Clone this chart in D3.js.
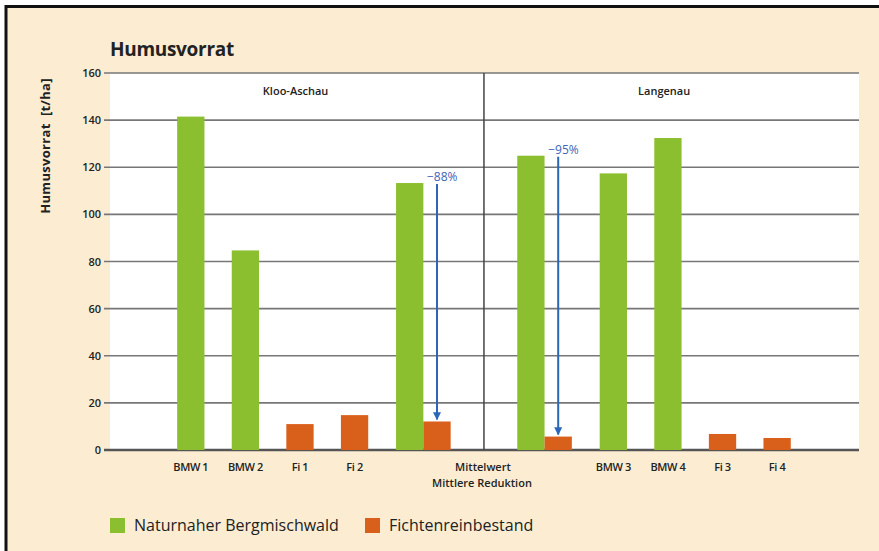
<!DOCTYPE html>
<html>
<head>
<meta charset="utf-8">
<script src="https://cdn.jsdelivr.net/npm/d3@7"></script>
<style>
  body { margin: 0; background: #fff; }
  text { font-family: "Open Sans", "Noto Sans", sans-serif; fill: #222; }
</style>
</head>
<body>
<div id="chart"></div>
<script>
// Humusvorrat – two sites, green = Bergmischwald, orange = Fichte
var leftCats = ["BMW 1", "BMW 2", "Fi 1", "Fi 2"];
var leftSeries = ["green", "green", "orange", "orange"];
var leftValues = [141.5, 84.7, 11.0, 14.8];

var rightCats = ["BMW 3", "BMW 4", "Fi 3", "Fi 4"];
var rightSeries = ["green", "green", "orange", "orange"];
var rightValues = [117.4, 132.4, 6.8, 5.1];

var meanLeft = [113.3, 12.1];   // Mittelwert Kloo-Aschau (BMW, Fi)
var meanRight = [124.9, 5.7];   // Mittelwert Langenau (BMW, Fi)
var reductions = ["\u221288%", "\u221295%"];

var sites = ["Kloo-Aschau", "Langenau"];
var legendLabels = ["Naturnaher Bergmischwald", "Fichtenreinbestand"];
var yTicks = [0, 20, 40, 60, 80, 100, 120, 140, 160];

var colors = { green: "#8cbf2f", orange: "#d8601a" };
var width = 879, height = 551;

var svg = d3.select("#chart").append("svg").attr("width", width).attr("height", height);

// frame
svg.append("rect").attr("x", 6).attr("y", 6).attr("width", width - 6).attr("height", height - 6).style("fill", "#fcedd2");
svg.append("line").attr("x1", 6).attr("x2", width).attr("y1", 6.5).attr("y2", 6.5).style("stroke", "#111").style("stroke-width", 3);
svg.append("line").attr("x1", 6).attr("x2", 6).attr("y1", 5).attr("y2", height).style("stroke", "#111").style("stroke-width", 3);

var plotL = 110, plotR = 859, plotT = 73, plotB = 450;
var y = d3.scaleLinear().domain([0, 160]).range([plotB, plotT]);
// x in "slot" units, one slot = one bar spacing
var x = d3.scaleLinear().domain([0, 13.72]).range([plotL, plotR]);
var barW = x(0.5) - x(0);

svg.append("rect").attr("x", plotL).attr("y", plotT).attr("width", plotR - plotL).attr("height", plotB - plotT).style("fill", "#fff");

// grid
svg.append("g").selectAll("line").data(yTicks).enter().append("line")
  .attr("x1", plotL - 6).attr("x2", plotR)
  .attr("y1", function(d){ return y(d); }).attr("y2", function(d){ return y(d); })
  .style("stroke", function(d){ return d === 0 ? "#555" : "#777"; })
  .style("stroke-width", function(d){ return d === 0 ? 2.5 : 1.6; });

svg.append("g").selectAll("text").data(yTicks).enter().append("text")
  .attr("x", plotL - 9).attr("y", function(d){ return y(d) + 4; })
  .attr("text-anchor", "end").style("font-size", "11px").style("font-weight", "600")
  .text(function(d){ return d; });

// divider between the sites
var divX = x(6.85);
svg.append("line").attr("x1", divX).attr("x2", divX).attr("y1", plotT).attr("y2", plotB)
  .style("stroke", "#444").style("stroke-width", 1.5);

// site labels
svg.selectAll(".site").data(sites).enter().append("text")
  .attr("x", function(d, i){ return i === 0 ? x(3.4) : x(10.15); })
  .attr("y", 95).attr("text-anchor", "middle")
  .style("font-size", "11px").style("font-weight", "600")
  .text(function(d){ return d; });

// single bars
var singles = [];
leftCats.forEach(function(c, i){ singles.push({ cat: c, s: leftSeries[i], v: leftValues[i], pos: 1.48 + i }); });
rightCats.forEach(function(c, i){ singles.push({ cat: c, s: rightSeries[i], v: rightValues[i], pos: 9.22 + i }); });

svg.append("g").selectAll("rect").data(singles).enter().append("rect")
  .attr("x", function(d){ return x(d.pos) - barW / 2; })
  .attr("width", barW)
  .attr("y", function(d){ return y(d.v); })
  .attr("height", function(d){ return y(0) - y(d.v); })
  .style("fill", function(d){ return colors[d.s]; });

svg.append("g").selectAll("text").data(singles).enter().append("text")
  .attr("x", function(d){ return x(d.pos); }).attr("y", 471)
  .attr("text-anchor", "middle").style("font-size", "11px").style("font-weight", "600")
  .style("letter-spacing", "-0.4px")
  .text(function(d){ return d.cat; });

// mean pairs with reduction arrows
var pairs = [
  { vals: meanLeft, center: 5.74, label: reductions[0] },
  { vals: meanRight, center: 7.96, label: reductions[1] }
];

svg.append("defs").append("marker").attr("id", "ah").attr("viewBox", "0 0 10 10")
  .attr("refX", 9).attr("refY", 5).attr("markerWidth", 4).attr("markerHeight", 4).attr("orient", "auto")
  .append("path").attr("d", "M0,0L10,5L0,10z").style("fill", "#2b66b8");

pairs.forEach(function(p){
  var gx = x(p.center) - barW, ox = x(p.center);
  svg.append("rect").attr("x", gx).attr("width", barW).attr("y", y(p.vals[0]))
    .attr("height", y(0) - y(p.vals[0])).style("fill", colors.green);
  svg.append("rect").attr("x", ox).attr("width", barW).attr("y", y(p.vals[1]))
    .attr("height", y(0) - y(p.vals[1])).style("fill", colors.orange);
  var ax = ox + barW / 2;
  svg.append("line").attr("x1", ax).attr("x2", ax)
    .attr("y1", y(p.vals[0]) + 1).attr("y2", y(p.vals[1]) - 2)
    .attr("marker-end", "url(#ah)")
    .style("stroke", "#2b66b8").style("stroke-width", 2);
  svg.append("text").attr("x", ax - 10).attr("y", y(p.vals[0]) - 2)
    .style("font-size", "12px").style("fill", "#3f63b5")
    .text(p.label);
});

// mean label under divider
svg.append("text").attr("x", divX - 1).attr("y", 471).attr("text-anchor", "middle")
  .style("font-size", "11px").style("font-weight", "600").text("Mittelwert");
svg.append("text").attr("x", divX - 2).attr("y", 487).attr("text-anchor", "middle")
  .style("font-size", "11px").style("font-weight", "600").text("Mittlere Reduktion");

// title + axis label
svg.append("text").attr("x", 110).attr("y", 56)
  .style("font-size", "19px").style("font-weight", "700").style("letter-spacing", "-0.3px")
  .text("Humusvorrat");
svg.append("text").attr("transform", "translate(50,146) rotate(-90)").attr("text-anchor", "middle")
  .style("font-size", "13px").style("font-weight", "700").style("letter-spacing", "0.3px")
  .text("Humusvorrat\u00a0\u00a0[t/ha]");

// legend
var legend = svg.append("g").selectAll("g").data(legendLabels).enter().append("g")
  .attr("transform", function(d, i){ return "translate(" + (i === 0 ? 110 : 365) + ",518)"; });
legend.append("rect").attr("width", 15).attr("height", 15)
  .style("fill", function(d, i){ return i === 0 ? colors.green : colors.orange; });
legend.append("text").attr("x", 24).attr("y", 13).style("font-size", "16px")
  .text(function(d){ return d; });
</script>
</body>
</html>
